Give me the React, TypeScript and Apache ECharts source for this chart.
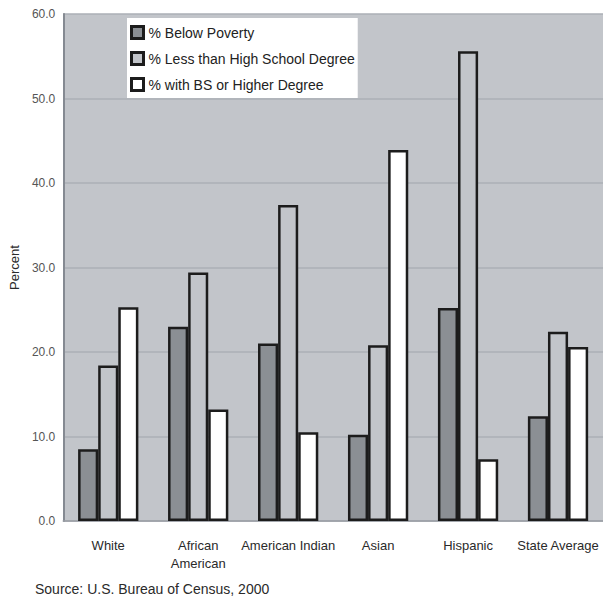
import React, { useEffect, useRef } from "react";
import * as echarts from "echarts";

// Population groups along the x axis
const groups = [
  "White",
  "African American",
  "American Indian",
  "Asian",
  "Hispanic",
  "State Average",
];

// Percent values per group
const belowPoverty = [8.5, 23.0, 21.0, 10.2, 25.2, 12.4];
const lessThanHighSchool = [18.4, 29.4, 37.4, 20.8, 55.6, 22.4];
const bsOrHigher = [25.3, 13.2, 10.5, 43.9, 7.3, 20.6];

const seriesNames = [
  "% Below Poverty",
  "% Less than High School Degree",
  "% with BS or Higher Degree",
];

const yTicks = [0, 10, 20, 30, 40, 50, 60];

const FONT = "'Liberation Sans', Arial, sans-serif";
const PLOT_BG = "#c2c5ca";

export default function App() {
  const ref = useRef<HTMLDivElement>(null);

  useEffect(() => {
    if (!ref.current) return;
    const chart = echarts.init(ref.current, undefined, { renderer: "svg" });

    const barStyle = (fill: string) => ({
      color: fill,
      borderColor: "#1c1c1c",
      borderWidth: 2.5,
    });

    chart.setOption({
      animation: false,
      backgroundColor: "#ffffff",
      textStyle: { fontFamily: FONT },
      grid: {
        left: 62,
        top: 14,
        width: 543,
        height: 507,
        show: true,
        backgroundColor: PLOT_BG,
        borderWidth: 0,
      },
      legend: {
        orient: "vertical",
        left: 127,
        top: 18,
        padding: [7, 3, 6, 3],
        backgroundColor: "#ffffff",
        icon: "rect",
        itemWidth: 12,
        itemHeight: 12,
        itemGap: 11,
        selectedMode: false,
        textStyle: { fontSize: 14, color: "#222", fontFamily: FONT },
        itemStyle: { borderColor: "#1c1c1c", borderWidth: 3 },
        data: seriesNames,
      },
      xAxis: {
        type: "category",
        data: groups,
        axisLine: { show: true, lineStyle: { color: "#9a9ea5", width: 1.5 } },
        axisTick: { show: false },
        axisLabel: {
          interval: 0,
          margin: 15,
          fontSize: 13,
          color: "#2a2a2a",
          lineHeight: 18,
          fontFamily: FONT,
          formatter: (v: string) =>
            v === "African American" ? "African\nAmerican" : v,
        },
        splitLine: { show: false },
      },
      yAxis: {
        type: "value",
        min: yTicks[0],
        max: yTicks[yTicks.length - 1],
        interval: 10,
        name: "Percent",
        nameLocation: "middle",
        nameGap: 42,
        nameTextStyle: { fontSize: 13, color: "#2a2a2a", fontFamily: FONT },
        axisLine: { show: true, lineStyle: { color: "#858a92", width: 2 } },
        axisTick: { show: false },
        axisLabel: {
          margin: 8,
          fontSize: 12,
          color: "#555",
          fontFamily: FONT,
          formatter: (v: number) => v.toFixed(1),
        },
        splitLine: { show: true, lineStyle: { color: "#abafb6", width: 1.5 } },
      },
      series: [
        {
          name: seriesNames[0],
          type: "bar",
          data: belowPoverty,
          barGap: "0%",
          barCategoryGap: "33%",
          itemStyle: barStyle("#8b8f94"),
        },
        {
          name: seriesNames[1],
          type: "bar",
          data: lessThanHighSchool,
          barGap: "0%",
          barCategoryGap: "33%",
          itemStyle: barStyle(PLOT_BG),
        },
        {
          name: seriesNames[2],
          type: "bar",
          data: bsOrHigher,
          barGap: "0%",
          barCategoryGap: "33%",
          itemStyle: barStyle("#ffffff"),
        },
      ],
      graphic: [
        {
          type: "text",
          left: 35,
          top: 582,
          style: {
            text: "Source: U.S. Bureau of Census, 2000",
            fontSize: 14,
            fill: "#2a2a2a",
            fontFamily: FONT,
          },
        },
      ],
    });

    return () => chart.dispose();
  }, []);

  return (
    <div
      ref={ref}
      style={{ position: "fixed", left: 0, top: 0, width: 603, height: 604 }}
    />
  );
}
